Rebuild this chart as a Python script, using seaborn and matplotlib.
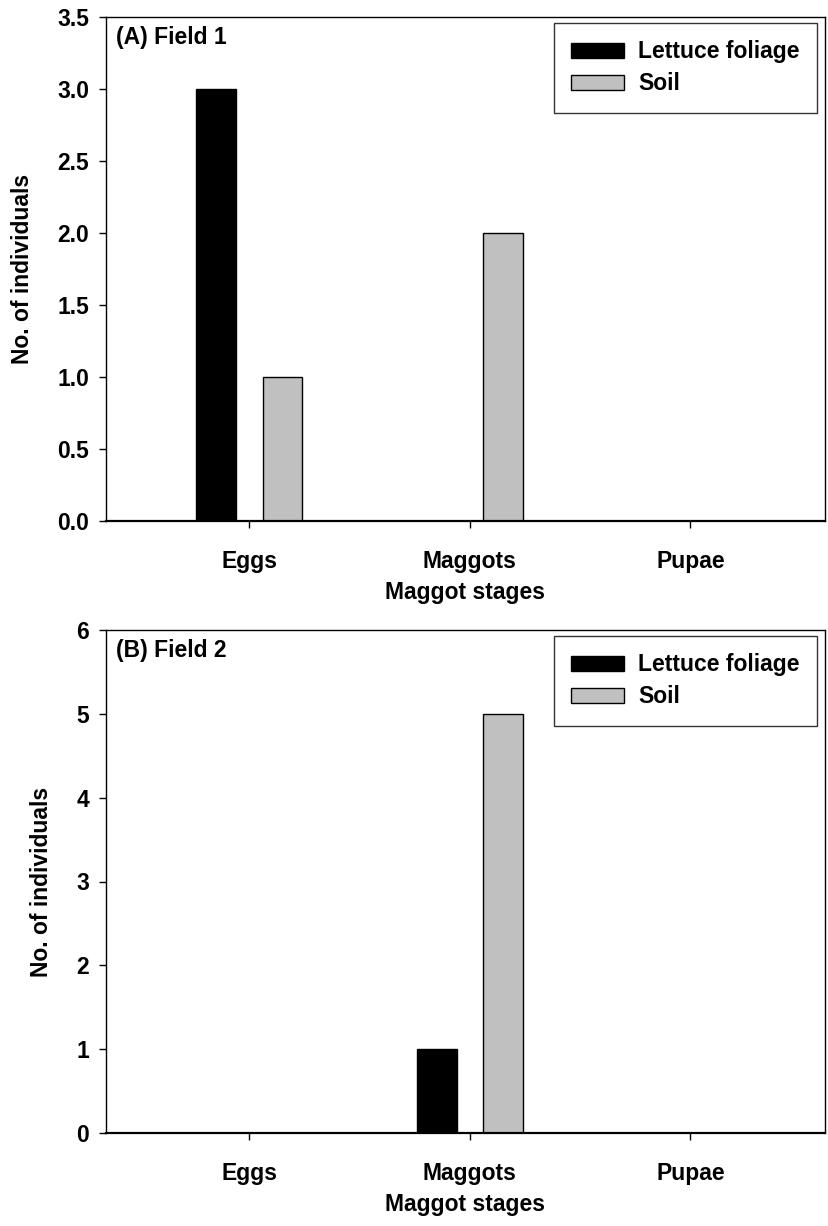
import pandas as pd
import matplotlib
matplotlib.use("Agg")
import matplotlib.pyplot as plt
import seaborn as sns

# data
stages = ['Eggs', 'Maggots', 'Pupae']
sources = ['Lettuce foliage', 'Soil']
field1_lettuce = [3, 0, 0]
field1_soil = [1, 2, 0]
field2_lettuce = [0, 1, 0]
field2_soil = [0, 5, 0]


def make_df(lettuce, soil):
    rows = []
    for st, v in zip(stages, lettuce):
        rows.append({'stage': st, 'source': sources[0], 'count': v})
    for st, v in zip(stages, soil):
        rows.append({'stage': st, 'source': sources[1], 'count': v})
    return pd.DataFrame(rows)


sns.set_style('ticks')
plt.rcParams['font.family'] = ['Liberation Sans', 'DejaVu Sans']
plt.rcParams['font.weight'] = 'bold'
plt.rcParams['text.color'] = 'black'
plt.rcParams['axes.labelcolor'] = 'black'
plt.rcParams['axes.labelweight'] = 'bold'

FS = 16.5

fig = plt.figure(figsize=(8.29, 12.26), dpi=100)
W, H = 829, 1226
ax1 = fig.add_axes([106 / W, 1 - 521 / H, 719 / W, 504 / H])
ax2 = fig.add_axes([106 / W, 1 - 1133 / H, 719 / W, 503 / H])

palette = {'Lettuce foliage': 'black', 'Soil': '#c0c0c0'}

panels = [
    (ax1, make_df(field1_lettuce, field1_soil), '(A) Field 1', 3.5, [0, 0.5, 1, 1.5, 2, 2.5, 3, 3.5], '{:.1f}'),
    (ax2, make_df(field2_lettuce, field2_soil), '(B) Field 2', 6, [0, 1, 2, 3, 4, 5, 6], '{:.0f}'),
]

for ax, df, label, ymax, yticks, fmt in panels:
    sns.barplot(data=df, x='stage', y='count', hue='source', palette=palette,
                width=0.6, gap=0.4, edgecolor='black', linewidth=1,
                ax=ax, errorbar=None)
    ax.set_xlim(-0.65, 2.61)
    ax.set_ylim(0, ymax)
    ax.set_yticks(yticks)
    ax.set_yticklabels([fmt.format(t) for t in yticks])
    ax.tick_params(axis='both', direction='out', length=5, width=1,
                   labelsize=FS, colors='black')
    ax.tick_params(axis='x', pad=16)
    ax.tick_params(axis='y', pad=7)
    for s in ax.spines.values():
        s.set_visible(True)
        s.set_linewidth(1)
        s.set_color('black')
    ax.spines['bottom'].set_linewidth(1.6)
    ax.set_xlabel('Maggot stages', fontsize=FS, fontweight='bold', labelpad=6)
    ax.set_ylabel('No. of individuals', fontsize=FS, fontweight='bold', labelpad=17)
    ax.text(0.014, 0.982, label, transform=ax.transAxes, fontsize=FS,
            fontweight='bold', va='top', ha='left')
    leg = ax.legend(loc='upper right', bbox_to_anchor=(0.989, 0.988),
                    fontsize=FS, frameon=True, fancybox=False,
                    handlelength=2.3, handleheight=0.65, handletextpad=0.65,
                    borderpad=0.75, labelspacing=0.4, borderaxespad=0,
                    title=None)
    leg.get_frame().set_edgecolor('black')
    leg.get_frame().set_linewidth(1)
    for t in leg.get_texts():
        t.set_fontweight('bold')

fig.savefig('out.png', dpi=100)
